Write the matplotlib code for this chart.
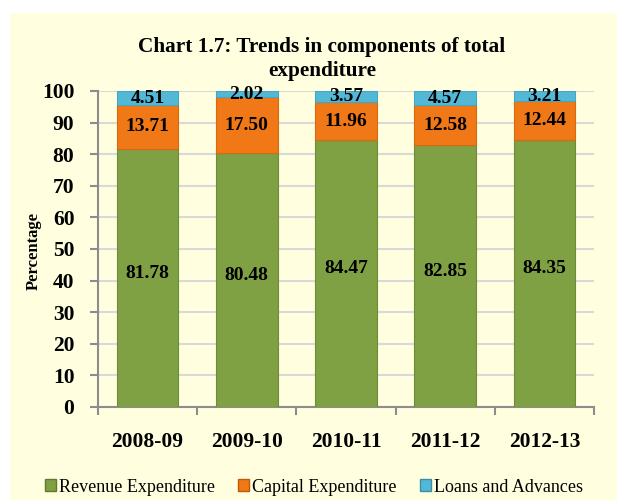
import matplotlib
matplotlib.use('Agg')
import matplotlib.pyplot as plt
from matplotlib.patches import Rectangle, Patch
import numpy as np

years = ['2008-09', '2009-10', '2010-11', '2011-12', '2012-13']
revenue = [81.78, 80.48, 84.47, 82.85, 84.35]
capital = [13.71, 17.50, 11.96, 12.58, 12.44]
loans = [4.51, 2.02, 3.57, 4.57, 3.21]

green = '#80A044'
orange = '#F07816'
cyan = '#52B8D6'
bg = '#FFFFDF'

plt.rcParams['font.family'] = ['Liberation Serif', 'DejaVu Serif']

fig = plt.figure(figsize=(6.17, 5.0), dpi=100)
fig.patch.set_facecolor('white')
fig.patches.append(Rectangle((10 / 617, 0), 1, 1 - 13 / 500, transform=fig.transFigure,
                             facecolor=bg, edgecolor='none', zorder=-10))

ax = fig.add_axes([98 / 617, 1 - 407 / 500, (594 - 98) / 617, (407 - 91) / 500])
ax.set_facecolor(bg)

x = np.arange(len(years))
w = 0.62
bottom2 = np.array(revenue)
bottom3 = bottom2 + np.array(capital)
ax.bar(x, revenue, w, color=green, edgecolor='#6E8C38', linewidth=0.8, zorder=3)
ax.bar(x, capital, w, bottom=bottom2, color=orange, edgecolor='#D8690F', linewidth=0.8, zorder=3)
ax.bar(x, loans, w, bottom=bottom3, color=cyan, edgecolor='#44A6C2', linewidth=0.8, zorder=3)

lab = dict(ha='center', va='center', fontsize=14, fontweight='bold', zorder=5)
for i in range(len(years)):
    ax.text(x[i], revenue[i] / 2 + 1.5, f'{revenue[i]:.2f}', **lab)
    ax.text(x[i], bottom2[i] + capital[i] / 2, f'{capital[i]:.2f}', **lab)
    ax.text(x[i], bottom3[i] + loans[i] / 2, f'{loans[i]:.2f}', **lab)

ax.set_xlim(-0.5, len(years) - 0.5)
ax.set_ylim(0, 100)
ax.set_yticks(range(0, 101, 10))
ax.yaxis.grid(True, color='#D9D9D9', linewidth=1.5, zorder=0)
ax.set_axisbelow(True)

# category boundary ticks on x, labels at centres
ax.set_xticks(np.arange(-0.5, len(years), 1.0))
ax.set_xticklabels([])
ax.set_xticks(x, minor=True)
ax.set_xticklabels(years, minor=True, fontsize=15.5, fontweight='bold')
ax.tick_params(axis='x', which='minor', length=0, pad=18)
ax.tick_params(axis='x', which='major', length=6, color='#8C8C8C', width=1.5)
ax.tick_params(axis='y', length=6, color='#8C8C8C', width=1.5, labelsize=15.5, pad=11)
for t in ax.get_yticklabels():
    t.set_fontweight('bold')

for s in ['top', 'right']:
    ax.spines[s].set_visible(False)
for s in ['left', 'bottom']:
    ax.spines[s].set_color('#8C8C8C')
    ax.spines[s].set_linewidth(1.5)

fig.text(34 / 617, 1 - 251 / 500, 'Percentage', rotation=90, ha='center', va='center',
         fontsize=12, fontweight='bold')
fig.text(322 / 617, 1 - 59 / 500, 'Chart 1.7: Trends in components of total\nexpenditure',
         ha='center', va='center', fontsize=15.3, fontweight='bold', linespacing=1.3)

handles = [Patch(facecolor=green, edgecolor='#5E7A2E'),
           Patch(facecolor=orange, edgecolor='#C05A0A'),
           Patch(facecolor=cyan, edgecolor='#3A8EA8')]
fig.legend(handles, ['Revenue Expenditure', 'Capital Expenditure', 'Loans and Advances'],
           loc='center', bbox_to_anchor=(314 / 617, 1 - 487 / 500), ncol=3, frameon=False,
           fontsize=13, handlelength=0.6, handleheight=0.6, handletextpad=0.15,
           columnspacing=1.3)

fig.savefig('out.png', dpi=100, facecolor=fig.get_facecolor())
